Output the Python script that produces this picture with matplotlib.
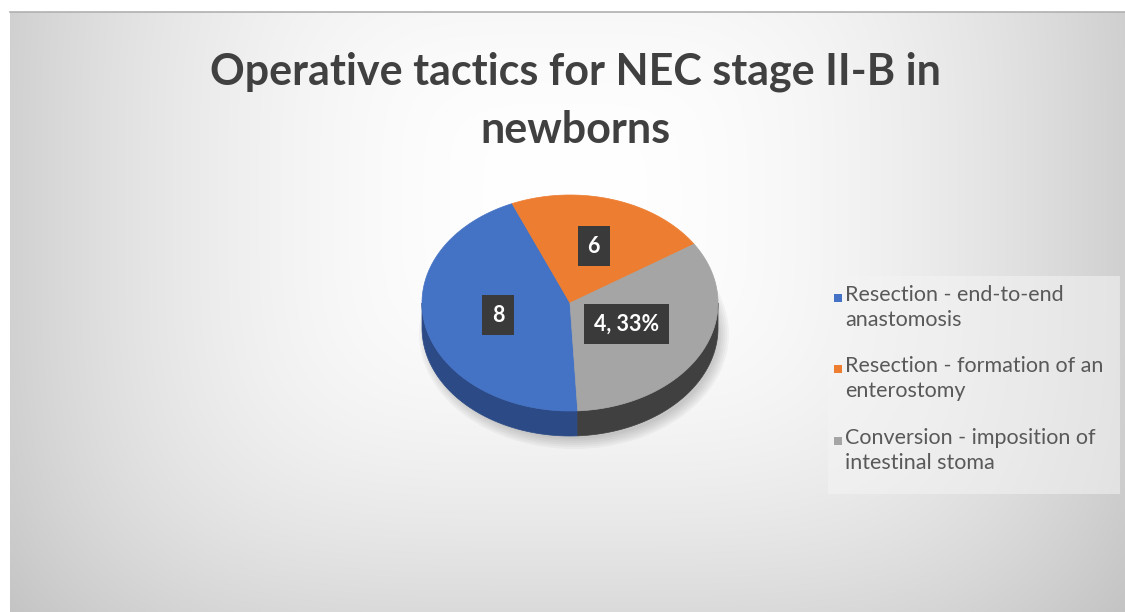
import numpy as np
import matplotlib
matplotlib.use("Agg")
import matplotlib.pyplot as plt
from matplotlib.patches import Polygon, Rectangle, Ellipse
import textwrap

# ---- data ----
title = "Operative tactics for NEC stage II-B in\nnewborns"
categories = ["Resection - end-to-end anastomosis",
              "Resection - formation of an enterostomy",
              "Conversion - imposition of intestinal stoma"]
values = [8, 4, 6]                     # slice sizes as drawn
value_labels = ["8", "6", "4, 33%"]    # data-label texts as shown
colors = ["#4472C4", "#ED7D31", "#A5A5A5"]
side_colors = ["#2B4A86", "#A9561F", "#404040"]

W, H = 1125, 612
fig = plt.figure(figsize=(W / 100, H / 100), dpi=100)
ax = fig.add_axes([0, 0, 1, 1])
ax.set_xlim(0, W)
ax.set_ylim(H, 0)
ax.axis("off")

# ---- background: soft rectangular/radial gradient ----
x0, y0 = 10, 12
xs = np.linspace(x0, W, 400)
ys = np.linspace(y0, H, 240)
X, Y = np.meshgrid(xs, ys)
r4 = (np.abs(X - 565) / 555) ** 4 + (np.abs(Y - 200) / 462) ** 4
g = np.clip(1.0 - 0.18 * np.sqrt(r4), 0, 1)
img = np.dstack([g, g, g])
ax.imshow(img, extent=(x0, W, H, y0), aspect="auto", zorder=0, interpolation="bilinear")
ax.plot([x0, W], [y0, y0], color="#b0b0b0", lw=1.2, zorder=1)

# ---- title ----
ax.text(575, 101, title, ha="center", va="center", fontsize=31, fontweight="bold",
        color="#404040", family="Lato", linespacing=1.55, zorder=5)

# ---- 3D pie ----
cx, cy, a, b, depth = 570, 303, 148, 108, 25
for k in range(6):
    ax.add_patch(Ellipse((cx + 4, cy + depth + 6), 2 * a + 14 - 4 * k, 2 * b + 14 - 4 * k,
                         facecolor="#555555", alpha=0.05, lw=0, zorder=2))

fr = np.array(values, dtype=float) / sum(values)
start = -87.0  # degrees, slices run clockwise from here
angles = [start]
for f in fr:
    angles.append(angles[-1] - 360 * f)

def pt(t):
    t = np.radians(t)
    return cx + a * np.cos(t), cy - b * np.sin(t)

# side walls on the front half (angles in (-180, 0) modulo 360)
for i in range(len(values)):
    t1, t2 = angles[i + 1], angles[i]
    for off in (0, 360, -360, 720):
        lo, hi = max(t1 + off, -180), min(t2 + off, 0)
        if hi > lo:
            ts = np.linspace(lo, hi, 80)
            top = [pt(t) for t in ts]
            bot = [(x, y + depth) for x, y in top[::-1]]
            ax.add_patch(Polygon(top + bot, closed=True, facecolor=side_colors[i],
                                 edgecolor=side_colors[i], lw=0.5, zorder=3))

# top faces
for i in range(len(values)):
    ts = np.linspace(angles[i], angles[i + 1], 150)
    verts = [(cx, cy)] + [pt(t) for t in ts]
    ax.add_patch(Polygon(verts, closed=True, facecolor=colors[i], edgecolor=colors[i],
                         lw=0.5, zorder=4))

# data labels
label_r = [0.5, 0.55, 0.43]
for i in range(len(values)):
    mid = np.radians((angles[i] + angles[i + 1]) / 2)
    lx = cx + label_r[i] * a * np.cos(mid)
    ly = cy - label_r[i] * b * np.sin(mid)
    ax.text(lx, ly, value_labels[i], ha="center", va="center", fontsize=15.5,
            fontweight="bold", color="white", family="Lato", zorder=6,
            bbox=dict(boxstyle="square,pad=0.45", facecolor="#3a3a3a", edgecolor="none"))

# ---- legend ----
ax.add_patch(Rectangle((828, 276), 292, 218, facecolor="#f4f4f4", edgecolor="none",
                       alpha=0.55, zorder=4))
leg_y = [298, 369, 441]
for i, lab in enumerate(categories):
    ax.add_patch(Rectangle((834, leg_y[i] - 4), 8, 8, facecolor=colors[i], edgecolor="none",
                           zorder=5))
    ax.text(845, leg_y[i] - 13, textwrap.fill(lab, 27), ha="left", va="top", fontsize=15.5,
            color="#595959", family="Lato", linespacing=1.3, zorder=5)

fig.savefig("out.png", dpi=100, facecolor="white")
